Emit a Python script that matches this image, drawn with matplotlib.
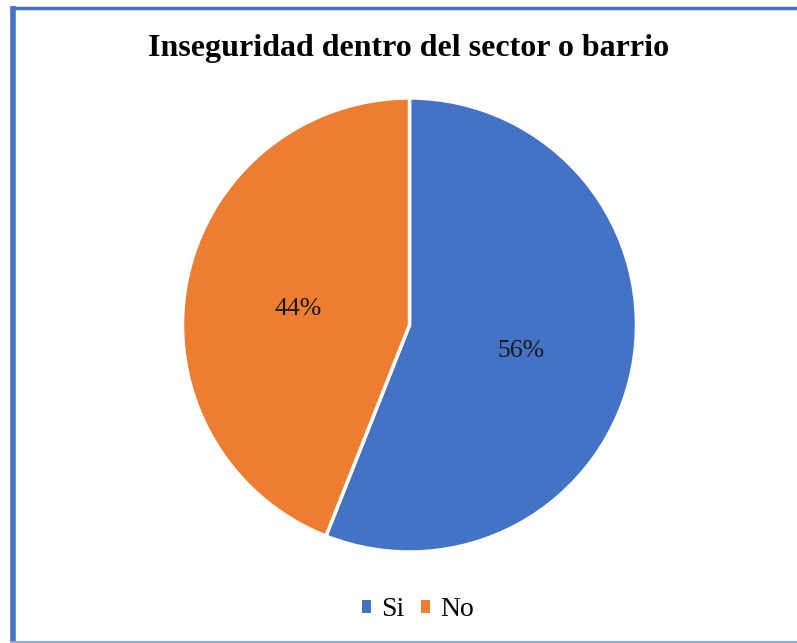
import matplotlib
matplotlib.use("Agg")
import matplotlib.pyplot as plt
from matplotlib.lines import Line2D
from matplotlib.patches import Patch

categories = ["Si", "No"]
values = [56, 44]
colors = ["#4472C4", "#ED7D31"]
title = "Inseguridad dentro del sector o barrio"

plt.rcParams['font.family'] = ['Liberation Serif', 'DejaVu Serif']

W, H = 797, 643
fig = plt.figure(figsize=(W/100, H/100), dpi=100)

# frame lines
fig.add_artist(Line2D([10/W, 1], [1-7.5/H, 1-7.5/H], color="#4472C4", lw=2.5,
                      solid_capstyle="butt", transform=fig.transFigure))
fig.add_artist(Line2D([12.5/W, 12.5/W], [0, 1-6/H], color="#4472C4", lw=4,
                      solid_capstyle="butt", transform=fig.transFigure))
fig.add_artist(Line2D([10/W, 1], [1.5/H, 1.5/H], color="#8FAADC", lw=1.5,
                      solid_capstyle="butt", transform=fig.transFigure))

R = 227
cx, cy = 409.5, 325
ax = fig.add_axes([(cx-R)/W, 1-(cy+R)/H, 2*R/W, 2*R/H])
wedges, texts = ax.pie(values, colors=colors, startangle=90, counterclock=False,
                       labels=[f"{v}%" for v in values], labeldistance=0.5,
                       wedgeprops=dict(edgecolor="white", linewidth=2.5),
                       textprops=dict(fontsize=18.5, color="#1a1a1a"))
for t in texts:
    t.set_ha("center"); t.set_va("center")
    x, y = t.get_position()
    t.set_position((x, y - 5/R))
ax.set_xlim(-1, 1); ax.set_ylim(-1, 1)
ax.set_aspect("equal")

fig.text(409/W, 1-56/H, title, ha="center", va="baseline", fontsize=23, fontweight="bold")

handles = [Patch(facecolor=c, edgecolor="none") for c in colors]
fig.legend(handles, categories, loc="center", bbox_to_anchor=(418/W, 1-610/H), ncol=2,
           frameon=False, fontsize=20, handlelength=0.33, handleheight=0.33,
           handletextpad=0.36, columnspacing=0.6, borderpad=0, borderaxespad=0)

fig.savefig("out.png", dpi=100)
